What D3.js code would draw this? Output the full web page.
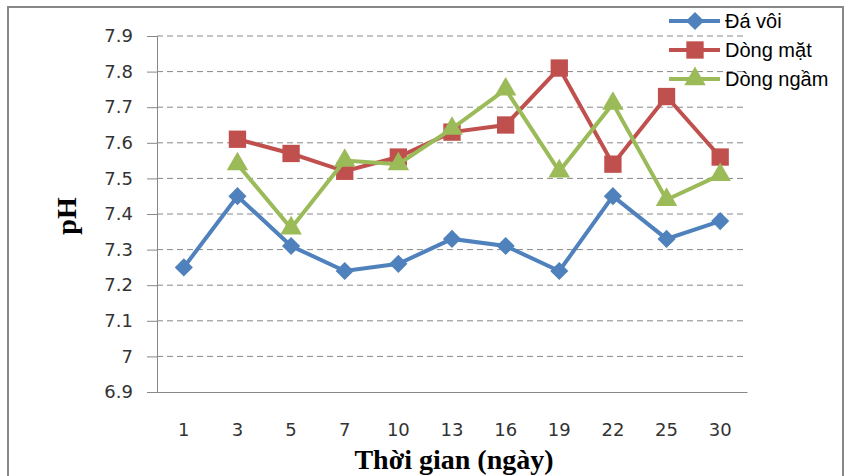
<!DOCTYPE html>
<html lang="vi">
<head>
<meta charset="utf-8">
<title>pH theo thời gian</title>
<script src="https://d3js.org/d3.v7.min.js"></script>
<style>
  body { margin: 0; background: #fff; }
  .tick text { font-family: "DejaVu Sans", Verdana, sans-serif; font-size: 18px; fill: #333; }
  .legend text { font-family: "Liberation Sans Narrow", "Liberation Sans", Arial, sans-serif; font-size: 20px; fill: #000; }
  .title { font-family: "Liberation Serif", "Times New Roman", serif; font-weight: bold; font-size: 28px; fill: #000; }
</style>
</head>
<body>
<script>
// ngày lấy mẫu
const days = ["1", "3", "5", "7", "10", "13", "16", "19", "22", "25", "30"];
const daVoi = [7.25, 7.45, 7.31, 7.24, 7.26, 7.33, 7.31, 7.24, 7.45, 7.33, 7.38];
const dongMat = [null, 7.61, 7.57, 7.52, 7.56, 7.63, 7.65, 7.81, 7.54, 7.73, 7.56];
const dongNgam = [null, 7.54, 7.36, 7.55, 7.54, 7.64, 7.75, 7.52, 7.71, 7.44, 7.51];
const yTicks = [6.9, 7, 7.1, 7.2, 7.3, 7.4, 7.5, 7.6, 7.7, 7.8, 7.9];

// diamond = hình vuông xoay 45 độ
const series = [
  { name: "Đá vôi", values: daVoi, color: "#4F81BD", symbol: d3.symbolSquare, size: 165, rot: 45 },
  { name: "Dòng mặt", values: dongMat, color: "#C0504D", symbol: d3.symbolSquare, size: 300, rot: 0 },
  { name: "Dòng ngầm", values: dongNgam, color: "#9BBB59", symbol: d3.symbolTriangle, size: 200, rot: 0 }
];

const width = 849, height = 476;
const plotL = 157, plotR = 747, plotT = 36, plotB = 392;

const svg = d3.select("body").append("svg")
  .attr("width", width).attr("height", height);

// khung ngoài
svg.append("rect")
  .attr("x", 8).attr("y", 7).attr("width", 835).attr("height", 480)
  .attr("fill", "none").attr("stroke", "#888").attr("stroke-width", 2);

const x = d3.scaleBand().domain(days).range([plotL, plotR]);
const y = d3.scaleLinear().domain([6.9, 7.9]).range([plotB, plotT]);

// lưới ngang
svg.append("g").selectAll("line")
  .data(yTicks.filter(t => t > 6.9))
  .enter().append("line")
  .attr("x1", plotL).attr("x2", plotR)
  .attr("y1", d => y(d)).attr("y2", d => y(d))
  .attr("stroke", "#888").attr("stroke-width", 1)
  .attr("stroke-dasharray", "6,4");

// trục y
const yAxis = svg.append("g")
  .attr("transform", "translate(" + plotL + ",0)")
  .call(d3.axisLeft(y).tickValues(yTicks).tickSize(10).tickPadding(14)
    .tickFormat(d => d3.format("~g")(d)));
yAxis.selectAll("path, line").attr("stroke", "#888");

// trục x
const xAxis = svg.append("g")
  .attr("transform", "translate(0," + plotB + ")")
  .call(d3.axisBottom(x).tickSize(0).tickPadding(31));
xAxis.select("path").attr("stroke", "#888");

// đường và điểm
const line = d3.line()
  .defined(d => d.v != null)
  .x(d => x(d.day) + x.bandwidth() / 2)
  .y(d => y(d.v));

series.forEach(s => {
  const pts = days.map((day, i) => ({ day: day, v: s.values[i] }));
  svg.append("path")
    .datum(pts)
    .attr("d", line)
    .attr("fill", "none")
    .attr("stroke", s.color)
    .attr("stroke-width", 4);
  svg.append("g").selectAll("path")
    .data(pts.filter(d => d.v != null))
    .enter().append("path")
    .attr("d", d3.symbol().type(s.symbol).size(s.size))
    .attr("transform", d => "translate(" + (x(d.day) + x.bandwidth() / 2) + "," + y(d.v) + ") rotate(" + s.rot + ")")
    .attr("fill", s.color);
});

// chú thích
const legend = svg.append("g").attr("class", "legend");
series.forEach((s, i) => {
  const ly = 21 + i * 29;
  const g = legend.append("g");
  g.append("line")
    .attr("x1", 669).attr("x2", 720).attr("y1", ly).attr("y2", ly)
    .attr("stroke", s.color).attr("stroke-width", 4);
  g.append("path")
    .attr("d", d3.symbol().type(s.symbol).size(s.size))
    .attr("transform", "translate(695," + ly + ") rotate(" + s.rot + ")")
    .attr("fill", s.color);
  g.append("text")
    .attr("x", 725).attr("y", ly + 7)
    .text(s.name);
});

// tiêu đề trục
svg.append("text")
  .attr("class", "title")
  .attr("x", 454).attr("y", 469)
  .attr("text-anchor", "middle")
  .text("Thời gian (ngày)");

svg.append("text")
  .attr("class", "title")
  .attr("transform", "translate(76,216) rotate(-90)")
  .attr("text-anchor", "middle")
  .text("pH");
</script>
</body>
</html>
